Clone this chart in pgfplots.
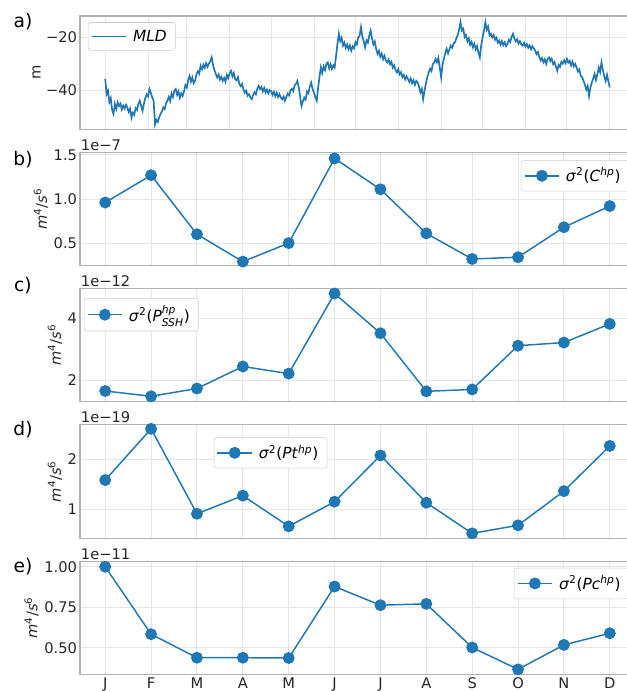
\documentclass[border=0pt]{standalone}
\usepackage{fontspec}
\setmainfont{DejaVu Sans}
\usepackage{amsmath}
\usepackage{pgfplots}
\usepackage{pgfplotstable}
\pgfplotsset{compat=1.18}
\definecolor{tabblue}{RGB}{31,119,180}

\pgfplotstableread[row sep=\\]{
y\\
-35.8\\ -41.5\\ -40.2\\ -44.5\\ -43.0\\ -47.5\\ -49.0\\
-45.2\\ -47.1\\ -44.6\\ -46.0\\ -45.1\\ -47.3\\ -45.8\\ -46.9\\ -45.5\\ -46.6\\ -48.2\\ -47.0\\ -50.4\\
-48.5\\ -49.3\\ -46.8\\ -47.5\\ -45.2\\ -44.0\\
-46.0\\ -47.8\\
-45.1\\ -43.0\\ -41.6\\ -42.4\\ -39.6\\
-41.0\\ -42.8\\ -44.0\\ -52.9\\
-51.2\\ -52.0\\ -50.4\\
-49.0\\ -48.1\\ -46.5\\ -47.2\\ -45.0\\ -44.0\\
-42.5\\ -44.1\\ -41.3\\ -42.6\\ -40.2\\ -39.6\\
-41.8\\ -40.5\\ -42.9\\ -41.2\\ -42.2\\
-40.5\\ -38.1\\ -39.0\\ -36.2\\ -34.6\\
-36.8\\ -35.2\\ -37.4\\ -36.5\\
-34.0\\ -32.9\\ -33.8\\ -30.8\\
-32.1\\ -30.4\\ -31.6\\ -29.8\\ -31.2\\ -30.0\\ -29.1\\ -27.6\\
-30.5\\ -32.4\\ -33.9\\ -35.2\\
-34.1\\ -36.0\\ -35.0\\ -36.5\\
-35.4\\ -36.8\\ -34.2\\ -35.5\\ -33.6\\ -32.7\\
-34.8\\ -33.5\\ -35.9\\ -36.3\\ -35.1\\ -37.7\\
-38.5\\ -37.6\\ -39.8\\ -41.0\\ -40.2\\ -42.1\\ -41.5\\ -42.8\\ -43.4\\
-41.9\\ -40.8\\ -41.6\\ -39.5\\ -38.4\\
-39.6\\ -38.8\\ -40.5\\ -39.2\\ -40.9\\ -39.8\\ -41.2\\ -40.0\\ -40.3\\
-41.8\\ -40.6\\ -42.3\\ -41.0\\ -42.6\\ -41.5\\
-42.8\\ -43.5\\ -42.4\\ -44.0\\
-42.6\\ -41.3\\ -42.0\\ -40.1\\ -39.5\\ -40.4\\ -38.2\\ -37.6\\ -36.5\\
-39.0\\ -42.5\\ -46.0\\
-44.2\\ -42.8\\ -43.6\\ -40.5\\ -41.2\\ -38.6\\ -37.1\\
-39.5\\ -41.0\\ -42.6\\ -44.0\\
-39.2\\ -35.0\\ -31.4\\
-33.5\\ -31.0\\ -32.4\\ -30.1\\ -29.5\\
-31.8\\ -30.2\\ -32.0\\ -30.6\\ -31.4\\
-27.0\\ -22.5\\ -18.7\\
-21.5\\ -20.2\\ -23.2\\
-22.0\\ -24.1\\ -22.8\\ -24.6\\ -23.1\\ -25.1\\
-23.5\\ -24.2\\ -21.9\\ -22.8\\ -20.1\\ -19.5\\ -16.2\\
-19.8\\ -21.5\\ -23.8\\
-21.2\\ -22.0\\ -19.4\\ -17.5\\
-20.5\\ -22.8\\ -21.6\\ -24.5\\ -26.3\\
-25.1\\ -27.4\\ -26.2\\ -28.3\\ -27.0\\ -28.8\\ -29.5\\
-28.4\\ -30.2\\ -29.3\\ -31.5\\ -30.6\\ -32.4\\ -33.3\\
-32.1\\ -34.0\\ -33.2\\ -35.1\\ -34.3\\ -36.0\\ -34.8\\ -35.8\\
-36.9\\ -35.6\\ -37.4\\ -36.2\\ -38.0\\ -36.5\\ -37.1\\
-38.6\\ -40.8\\ -39.5\\ -43.4\\
-40.2\\ -37.5\\ -35.1\\ -33.3\\
-31.9\\ -32.8\\ -30.1\\ -29.6\\ -28.2\\
-29.5\\ -27.8\\ -31.4\\ -35.2\\
-30.5\\ -28.1\\ -26.0\\ -24.4\\
-26.1\\ -24.5\\ -23.2\\ -24.0\\ -22.4\\ -21.9\\
-20.5\\ -19.1\\ -17.2\\ -14.3\\
-17.5\\ -16.8\\ -20.0\\
-19.2\\ -21.6\\ -20.5\\ -22.9\\ -21.8\\ -23.8\\
-22.5\\ -24.6\\ -23.4\\ -25.8\\ -27.6\\
-23.0\\ -20.1\\ -17.5\\ -14.3\\
-17.2\\ -16.0\\ -19.3\\ -18.7\\
-20.1\\ -19.2\\ -21.0\\ -20.2\\ -22.1\\ -21.3\\
-22.8\\ -21.5\\ -23.0\\ -21.9\\ -23.4\\ -22.5\\
-21.0\\ -21.8\\ -19.8\\ -18.7\\
-20.5\\ -21.6\\ -20.8\\ -22.4\\ -21.5\\ -22.8\\ -23.2\\
-22.1\\ -23.5\\ -22.6\\ -24.0\\ -23.1\\ -24.6\\ -23.4\\ -24.2\\ -25.1\\
-26.4\\ -25.6\\ -27.5\\ -28.8\\ -27.9\\ -29.5\\
-28.4\\ -30.1\\ -28.2\\ -27.6\\
-29.0\\ -28.1\\ -30.2\\ -29.4\\ -31.0\\ -32.7\\
-30.5\\ -31.2\\ -29.3\\ -30.0\\ -28.7\\ -29.8\\ -28.2\\
-29.6\\ -28.9\\ -30.7\\ -29.2\\ -31.0\\ -30.1\\
-31.5\\ -33.0\\ -32.2\\ -34.6\\ -35.1\\ -36.5\\
-37.9\\ -39.8\\ -38.4\\ -42.2\\
-39.0\\ -37.1\\ -35.6\\ -33.9\\
-36.2\\ -34.0\\ -31.5\\ -33.2\\ -29.5\\
-32.4\\ -34.8\\ -36.5\\
-34.2\\ -36.8\\ -39.0\\
}\mld

\pgfplotstableread{
x b c d e
0 0.96 1.66 1.58 1.000
1 1.27 1.49 2.60 0.584
2 0.60 1.74 0.91 0.439
3 0.29 2.45 1.27 0.439
4 0.50 2.22 0.66 0.437
5 1.46 4.80 1.15 0.878
6 1.11 3.52 2.07 0.763
7 0.61 1.65 1.13 0.771
8 0.32 1.71 0.52 0.502
9 0.34 3.12 0.68 0.367
10 0.68 3.22 1.36 0.518
11 0.92 3.82 2.26 0.590
}\monthly

\newcommand{\tf}{\fontsize{11}{13}\selectfont}
\newcommand{\lf}{\fontsize{11.5}{13.5}\selectfont}
\pgfplotsset{
  panel/.style={
    scale only axis, width=416.25pt, height=85pt,
    xmin=-0.55, xmax=11.55,
    axis line style={draw=black!30, line width=0.8pt},
    major tick length=0pt,
    grid=major, grid style={draw=black!10, line width=0.7pt},
    xtick={0,...,11}, xticklabels={},
    tick label style={font=\tf, text=black!85},
    /pgf/number format/assume math mode=true,
    yticklabel style={inner xsep=2pt},
    xticklabel style={inner ysep=2pt},
    ylabel style={font=\tf, text=black!85, inner sep=2pt},
    legend style={font=\lf, draw=black!20, rounded corners=2pt, fill=white,
      inner xsep=2pt, inner ysep=2.5pt, nodes={inner xsep=4.5pt, inner ysep=3pt}},
    legend cell align=left,
    legend image code/.code={\draw[mark repeat=2,mark phase=2,##1] plot coordinates {(0pt,0pt) (13pt,0pt) (26pt,0pt)};},
  },
  ser/.style={color=tabblue, line width=1.1pt, mark=*, mark size=3.9pt,
    mark options={solid, fill=tabblue, draw=tabblue}},
}
\newcommand{\ylab}{\textit{m}\textsuperscript{4}/\textit{s}\textsuperscript{6}}
\newcommand{\sig}{\textit{σ}\textsuperscript{2}}

\begin{document}
\begin{tikzpicture}
% a)
\begin{axis}[panel, name=pa, at={(60pt,-12pt)}, anchor=north west,
  ymin=-54.8, ymax=-12.0,
  xtick={0,0.934,1.778,2.712,3.616,4.551,5.455,6.389,7.323,8.227,9.162,10.066,11},
  ytick={-40,-20}, yticklabels={−40,−20},
  ylabel={m},
  legend style={at={(0.014,0.945)}, anchor=north west}]
\addplot[color=tabblue, line width=1.25pt, no markers] table[x expr=\coordindex*11/365, y index=0] {\mld};
\addlegendentry{\textit{MLD}}
\end{axis}
% b)
\begin{axis}[panel, name=pb, at={(60pt,-114.2pt)}, anchor=north west,
  ymin=0.245, ymax=1.53,
  ytick={0.5,1.0,1.5}, yticklabels={0.5,1.0,1.5},
  ylabel={\ylab},
  legend style={at={(0.99,0.93)}, anchor=north east}]
\addplot[ser] table[x=x, y=b] {\monthly};
\addlegendentry{\sig(\textit{C}\textsuperscript{\textit{hp}})}
\end{axis}
% c)
\begin{axis}[panel, name=pc, at={(60pt,-216.4pt)}, anchor=north west,
  ymin=1.31, ymax=4.96,
  ytick={2,4}, yticklabels={2,4},
  ylabel={\ylab},
  legend style={at={(0.007,0.915)}, anchor=north west}]
\addplot[ser] table[x=x, y=c] {\monthly};
\addlegendentry{\sig(\textit{P}${}^{\text{\itshape hp}}_{\text{\itshape SSH}}$)}
\end{axis}
% d)
\begin{axis}[panel, name=pd, at={(60pt,-318.6pt)}, anchor=north west,
  ymin=0.425, ymax=2.68,
  ytick={1,2}, yticklabels={1,2},
  ylabel={\ylab},
  legend style={at={(0.241,0.89)}, anchor=north west}]
\addplot[ser] table[x=x, y=d] {\monthly};
\addlegendentry{\sig(\textit{Pt}\textsuperscript{\textit{hp}})}
\end{axis}
% e)
\begin{axis}[panel, name=pe, at={(60pt,-420.8pt)}, anchor=north west,
  ymin=0.336, ymax=1.035,
  ytick={0.5,0.75,1.0}, yticklabels={0.50,0.75,1.00},
  xticklabels={J,F,M,A,M,J,J,A,S,O,N,D},
  ylabel={\ylab},
  legend style={at={(0.99,0.94)}, anchor=north east}]
\addplot[ser] table[x=x, y=e] {\monthly};
\addlegendentry{\sig(\textit{Pc}\textsuperscript{\textit{hp}})}
\end{axis}
% offset texts
\foreach \n/\t in {pb/1e−7, pc/1e−12, pd/1e−19, pe/1e−11}
  \node[anchor=south west, inner xsep=0.5pt, inner ysep=1pt, font=\tf, text=black!85] at (\n.north west) {\t};
% panel letters
\begin{scope}[every node/.style={font=\fontsize{14}{16}\selectfont, anchor=center}]
\node at (17.25pt,-16.5pt) {a)};
\node at (17.25pt,-120pt) {b)};
\node at (17.25pt,-214.5pt) {c)};
\node at (17.25pt,-322.5pt) {d)};
\node at (17.25pt,-425.3pt) {e)};
\end{scope}
\pgfresetboundingbox
\path[use as bounding box] (0pt,0pt) rectangle (469.5pt,-518.25pt);
\end{tikzpicture}
\end{document}
